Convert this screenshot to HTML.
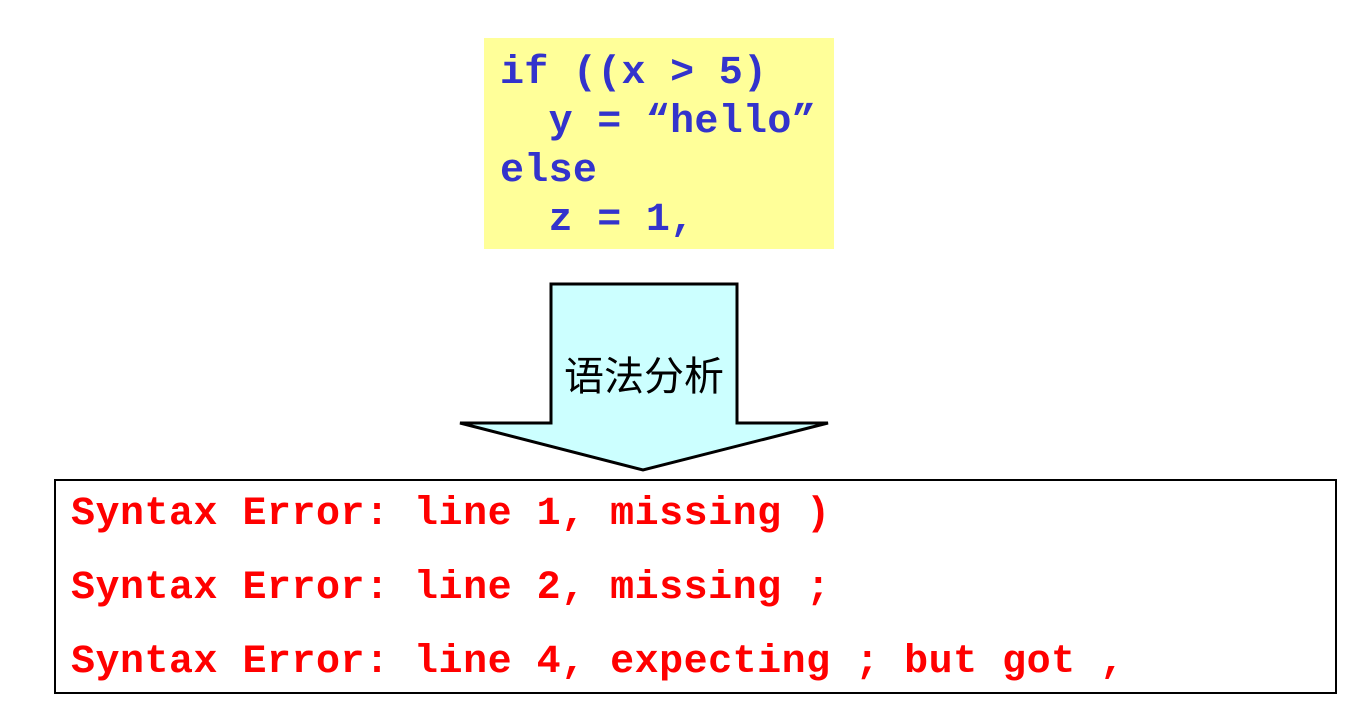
<!DOCTYPE html>
<html><head><meta charset="utf-8"><style>
body{margin:0;width:1350px;height:703px;background:#fff;position:relative;overflow:hidden}
.code{position:absolute;left:484px;top:38px;width:350px;height:211px;background:#ffff99}
pre{font-family:"Liberation Mono",monospace;font-weight:bold;font-size:40px}
.c{position:absolute;left:16px;top:11px;margin:0;color:#3333cc;line-height:49px;font-size:40px;letter-spacing:0.3px}
.err{position:absolute;left:54px;top:479px;width:1279px;height:211px;border:2px solid #000}
.e{position:absolute;left:15px;top:-3px;margin:0;color:#ff0000;line-height:74px;font-size:40px;letter-spacing:0.5px}
svg{position:absolute;left:0;top:0}
.lbl{position:absolute;left:551px;top:344px;width:186px;text-align:center;font-family:"Liberation Sans","Noto Sans CJK SC",sans-serif;font-size:40px;color:#000}
</style></head><body>
<div class="code"><pre class="c">if ((x > 5)
  y = “hello”
else
  z = 1,</pre></div>
<svg width="1350" height="703"><polygon points="551,284 737,284 737,423 828,423 643,470 460,423 551,423" fill="#ccffff" stroke="#000" stroke-width="3" stroke-linejoin="miter"/></svg>
<div class="lbl">语法分析</div>
<div class="err"><pre class="e">Syntax Error: line 1, missing )
Syntax Error: line 2, missing ;
Syntax Error: line 4, expecting ; but got ,</pre></div>
</body></html>
